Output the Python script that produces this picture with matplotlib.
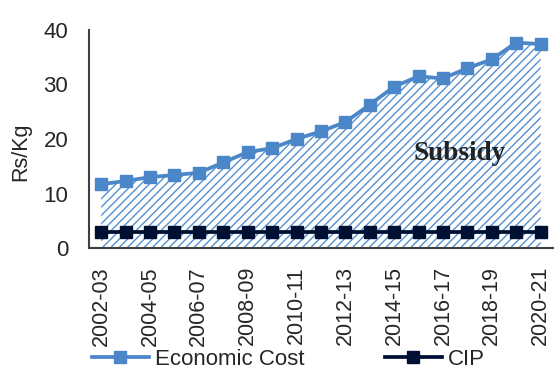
import matplotlib.pyplot as plt
import numpy as np

years = ["2002-03", "2003-04", "2004-05", "2005-06", "2006-07", "2007-08",
         "2008-09", "2009-10", "2010-11", "2011-12", "2012-13", "2013-14",
         "2014-15", "2015-16", "2016-17", "2017-18", "2018-19", "2019-20",
         "2020-21"]
economic_cost = [11.7, 12.3, 13.0, 13.4, 13.8, 15.7, 17.6, 18.3, 20.0, 21.4,
                 23.1, 26.3, 29.6, 31.5, 31.1, 33.0, 34.6, 37.7, 37.4]
cip = [3.0] * 19

blue = "#4a86c8"
navy = "#001033"

plt.rcParams["font.family"] = ["Liberation Sans", "DejaVu Sans"]
plt.rcParams["hatch.color"] = "#5590ce"
plt.rcParams["hatch.linewidth"] = 1.0

fig = plt.figure(figsize=(5.54, 3.70), dpi=100)
ax = fig.add_axes([0.1606, 0.3297, 0.8374, 0.5893])

x = np.arange(len(years))
ax.fill_between(x, 0, economic_cost, facecolor="white", edgecolor="#5590ce",
                hatch="////", linewidth=0)
ax.plot(x, economic_cost, color=blue, lw=2.7, marker="s", ms=8.8,
        label="Economic Cost")
ax.plot(x, cip, color=navy, lw=2.7, marker="s", ms=8.8, label="CIP")

ax.text(12.8, 17.4, "Subsidy", family=["Liberation Serif"], weight="bold",
        fontsize=19.5, color="#222222", ha="left", va="center")

ax.set_xlim(-0.5, 18.5)
ax.set_ylim(0, 40)
ax.set_yticks([0, 10, 20, 30, 40])
ax.set_xticks(x[::2])
ax.set_xticklabels(years[::2], rotation=90)
ax.tick_params(axis="x", length=0, pad=13, labelsize=15.5, colors="#262626")
ax.tick_params(axis="y", length=0, pad=15, labelsize=16, colors="#262626")
ax.set_ylabel("Rs/Kg", fontsize=15.5, color="#262626")
ax.yaxis.set_label_coords(-0.125, 0.44)

for s in ["top", "right"]:
    ax.spines[s].set_visible(False)
ax.spines["left"].set_color("#404040")
ax.spines["bottom"].set_color("#404040")
ax.spines["left"].set_linewidth(1.5)
ax.spines["bottom"].set_linewidth(1.5)

fig.legend(loc="center", bbox_to_anchor=(0.521, 0.028), ncol=2, frameon=False,
           fontsize=16, handlelength=2.55, handletextpad=0.3,
           columnspacing=3.6, labelcolor="#262626")

plt.savefig("out.png", dpi=100)
